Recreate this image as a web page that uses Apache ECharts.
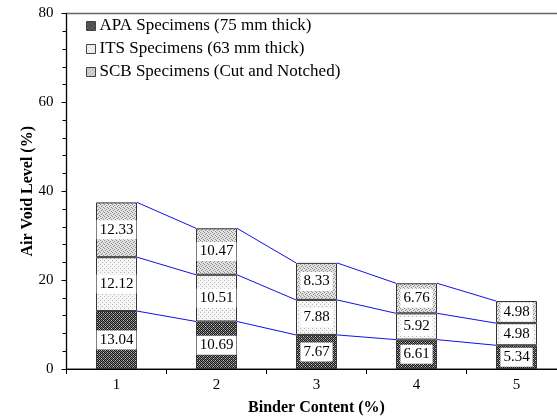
<!DOCTYPE html>
<html>
<head>
<meta charset="utf-8">
<script src="https://cdn.jsdelivr.net/npm/echarts@6/dist/echarts.min.js"></script>
<style>
  html, body { margin: 0; padding: 0; background: #fff; }
  #chart { width: 557px; height: 420px; }
</style>
</head>
<body>
<div id="chart"></div>
<script>
// Air void levels by binder content for three specimen types
const categories = ['1', '2', '3', '4', '5'];
const seriesNames = [
  'APA Specimens (75 mm thick)',
  'ITS Specimens (63 mm thick)',
  'SCB Specimens (Cut and Notched)'
];
const apaValues = [13.04, 10.69, 7.67, 6.61, 5.34];
const itsValues = [12.12, 10.51, 7.88, 5.92, 4.98];
const scbValues = [12.33, 10.47, 8.33, 6.76, 4.98];
const yTicks = [0, 20, 40, 60, 80];

const FONT = '"Liberation Serif", "Times New Roman", serif';
const BAR_W = 41;

// Small tiled fills for the hatched / dotted bar segments
function makeTile(size, painter) {
  const c = document.createElement('canvas');
  c.width = size; c.height = size;
  const g = c.getContext('2d');
  painter(g, size);
  return { image: c, repeat: 'repeat' };
}
const apaFill = makeTile(4, (g, s) => {
  g.fillStyle = '#7a7a7a'; g.fillRect(0, 0, s, s);
  g.fillStyle = '#1a1a1a';
  for (let y = 0; y < s; y++) for (let x = 0; x < s; x++) {
    if ((x + y) % 2 === 0) g.fillRect(x, y, 1, 1);
  }
  g.fillStyle = '#c8c8c8'; g.fillRect(1, 2, 1, 1); g.fillRect(3, 0, 1, 1);
});
const itsFill = makeTile(4, (g, s) => {
  g.fillStyle = '#f6f6f6'; g.fillRect(0, 0, s, s);
  g.fillStyle = '#b4b4b4';
  g.fillRect(0, 0, 1, 1); g.fillRect(2, 2, 1, 1);
});
const scbFill = makeTile(4, (g, s) => {
  g.fillStyle = '#e2e2e2'; g.fillRect(0, 0, s, s);
  g.fillStyle = '#8c8c8c';
  g.fillRect(0, 0, 1, 1); g.fillRect(2, 1, 1, 1); g.fillRect(1, 2, 1, 1); g.fillRect(3, 3, 1, 1);
});
const fills = [apaFill, itsFill, scbFill];
const valueSets = [apaValues, itsValues, scbValues];

// Cumulative tops of each stacked layer, used for the connecting lines
const cumTops = [];
valueSets.forEach((vals, k) => {
  cumTops.push(vals.map((v, i) => (k === 0 ? 0 : cumTops[k - 1][i]) + v));
});
const connectorData = [];
cumTops.forEach(tops => {
  for (let i = 0; i < tops.length - 1; i++) connectorData.push([i, tops[i], tops[i + 1]]);
});

const barSeries = valueSets.map((vals, k) => ({
  name: seriesNames[k],
  type: 'bar',
  stack: 'voids',
  barWidth: BAR_W,
  data: vals,
  itemStyle: { color: fills[k], borderColor: '#333', borderWidth: 1 },
  label: {
    show: true,
    position: 'inside',
    formatter: p => p.value.toFixed(2),
    color: '#000',
    fontFamily: FONT,
    fontSize: 15,
    backgroundColor: '#fff',
    padding: [3, 3, 1, 3]
  },
  emphasis: { disabled: true }
}));

const chart = echarts.init(document.getElementById('chart'));
chart.setOption({
  animation: false,
  backgroundColor: '#fff',
  grid: {
    left: 66.5, top: 13.5, width: 500, height: 355.5,
    outerBoundsMode: 'none',
    containLabel: false,
    show: true, borderColor: '#666', borderWidth: 1.5, backgroundColor: 'transparent'
  },
  legend: {
    orient: 'vertical',
    left: 81, top: 12.5,
    itemWidth: 9, itemHeight: 9, itemGap: 6,
    icon: 'rect',
    data: seriesNames,
    textStyle: { fontFamily: FONT, fontSize: 17, color: '#000', padding: [0, 0, 0, -1], lineHeight: 17 },
    itemStyle: { borderColor: '#444', borderWidth: 1 }
  },
  xAxis: {
    type: 'category',
    data: categories,
    name: 'Binder Content (%)',
    nameLocation: 'middle',
    nameGap: 31,
    nameMoveOverlap: false,
    nameTextStyle: { fontFamily: FONT, fontSize: 16, fontWeight: 'bold', color: '#000' },
    axisLine: { lineStyle: { color: '#000', width: 1 } },
    axisTick: { show: true, length: 5, lineStyle: { color: '#000' } },
    axisLabel: { fontFamily: FONT, fontSize: 15, color: '#000', margin: 9 },
    splitLine: { show: false }
  },
  yAxis: {
    type: 'value',
    min: 0, max: 80, interval: 20,
    name: 'Air Void Level (%)',
    nameLocation: 'middle',
    nameGap: 31,
    nameMoveOverlap: false,
    nameTextStyle: { fontFamily: FONT, fontSize: 16, fontWeight: 'bold', color: '#000' },
    axisLine: { show: true, lineStyle: { color: '#000', width: 1 } },
    axisTick: { show: true, length: 5, lineStyle: { color: '#000' } },
    minorTick: { show: true, splitNumber: 5, length: 4, lineStyle: { color: '#000' } },
    axisLabel: {
      fontFamily: FONT, fontSize: 15, color: '#000', margin: 13,
      formatter: v => (yTicks.indexOf(v) >= 0 ? String(v) : '')
    },
    splitLine: { show: false }
  },
  series: barSeries.concat([{
    type: 'custom',
    name: 'connectors',
    data: connectorData,
    z: 5,
    silent: true,
    renderItem: (params, api) => {
      const a = api.coord([api.value(0), api.value(1)]);
      const b = api.coord([api.value(0) + 1, api.value(2)]);
      return {
        type: 'line',
        shape: { x1: a[0] + BAR_W / 2, y1: a[1], x2: b[0] - BAR_W / 2, y2: b[1] },
        style: { stroke: '#1010e8', lineWidth: 1 }
      };
    }
  }])
});
</script>
</body>
</html>
